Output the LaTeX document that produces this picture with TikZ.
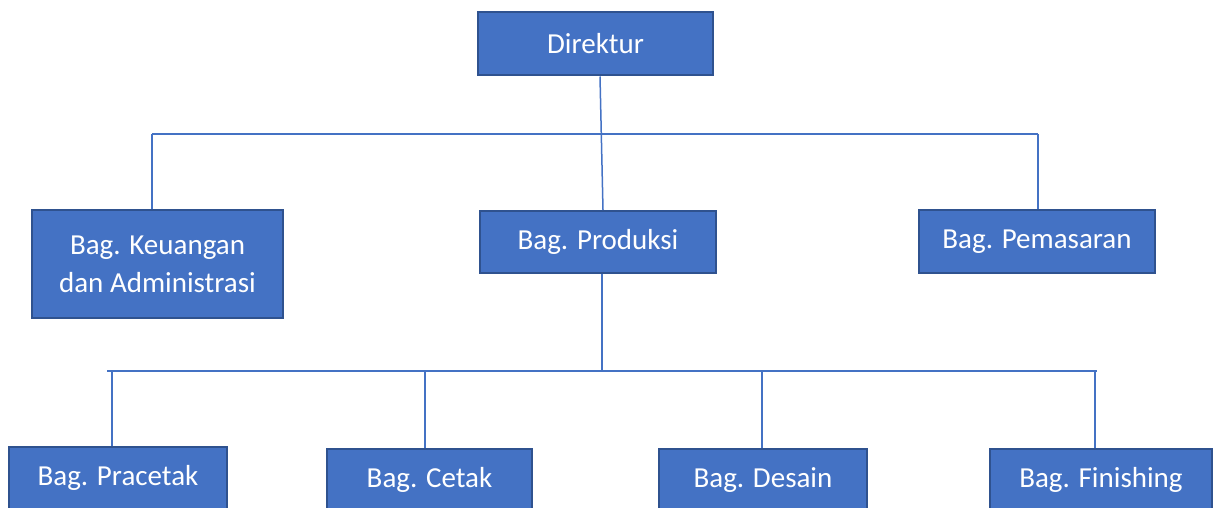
\documentclass[tikz,border=0pt]{standalone}
\usepackage{fontspec}
\setmainfont{Carlito}
\usepackage{tikz}
\usetikzlibrary{positioning, calc}
\definecolor{unitblue}{RGB}{68,114,196}
\definecolor{unitedge}{RGB}{47,82,143}
\tikzset{
  unit/.style={draw=unitedge, line width=2pt, fill=unitblue, text=white,
    inner sep=0pt, align=center, font=\fontsize{29}{38}\selectfont},
  link/.style={draw=unitblue, line width=1.5pt}
}

\begin{document}
\begin{tikzpicture}[x=1pt, y=-1pt]
  \useasboundingbox (0,0) rectangle (1216,508);

  % pimpinan
  \node[unit, minimum width=235pt, minimum height=63pt] (dir) at (595.5,44) {Direktur};

  % bagian tingkat pertama
  \node[unit, minimum width=251pt, minimum height=108pt] (keu) at (157.5,264) {Bag. Keuangan\\dan Administrasi};
  \node[unit, minimum width=236pt, minimum height=62pt] (prod) at (598,242) {Bag. Produksi};
  \node[unit, minimum width=236pt, minimum height=63pt] (pem) at (1037,241.5) {Bag. Pemasaran};

  % bagian di bawah produksi
  \node[unit, anchor=north, minimum width=218pt, minimum height=62pt] (pra) at (118,446) {Bag. Pracetak};
  \node[unit, anchor=north, minimum width=205pt, minimum height=62pt] (cet) at (429.5,448) {Bag. Cetak};
  \node[unit, anchor=north, minimum width=208pt, minimum height=62pt] (des) at (763,448) {Bag. Desain};
  \node[unit, anchor=north, minimum width=222pt, minimum height=62pt] (fin) at (1101,448) {Bag. Finishing};

  % garis penghubung
  \coordinate (busA) at (152,134);
  \coordinate (busB) at (1038,134);
  \coordinate (busC) at (107,371);
  \coordinate (busD) at (1097,371);

  \draw[link] (busA) -- (busB);
  \draw[link] ($(dir.south)+(4.5,0)$) -- ($(prod.north)+(5,0)$);
  \draw[link] (busA) -- (busA |- keu.north);
  \draw[link] (busB) -- (busB |- pem.north);

  \draw[link] (busC) -- (busD);
  \draw[link] ($(prod.south)+(4,0)$) -- ($(prod.south |- busC)+(4,0)$);
  \foreach \n/\dx in {pra/-6,cet/-4.5,des/-1,fin/-6}
    \draw[link] ($(\n.north |- busC)+(\dx,0)$) -- ($(\n.north)+(\dx,0)$);
\end{tikzpicture}
\end{document}
